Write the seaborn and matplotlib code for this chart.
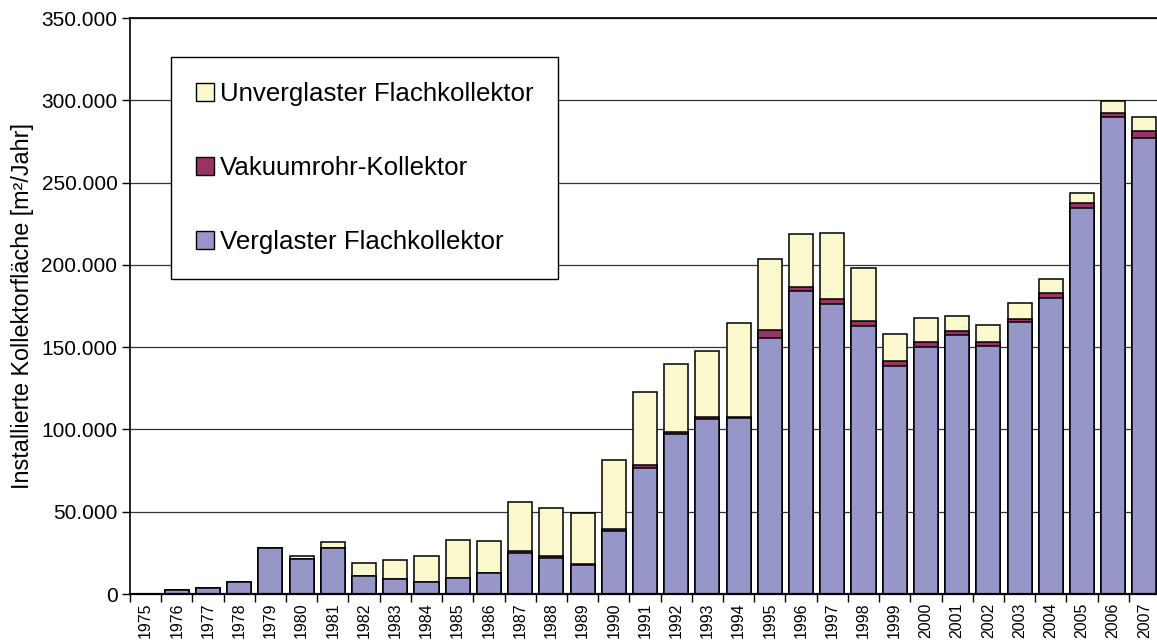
import matplotlib
import matplotlib.pyplot as plt
import numpy as np
import pandas as pd
import seaborn as sns
from matplotlib.patches import Patch
from matplotlib.ticker import FuncFormatter, MultipleLocator

matplotlib.use("Agg")

JAHRE = [str(j) for j in range(1975, 2008)]
VERGLAST = [200, 2300, 3800, 7100, 28000, 21500, 28000, 10800, 8900, 7500,
            9900, 12600, 25000, 22000, 17500, 38500, 76700, 97500, 106500, 106800,
            155700, 183900, 176300, 162900, 138700, 150200, 157600, 150900, 165000,
            179900, 234800, 289700, 277300]
VAKUUM = [0, 0, 0, 0, 0, 0, 0, 0, 0, 0,
          0, 0, 1000, 1200, 800, 1000, 1600, 1000, 1000, 1000,
          4600, 2700, 3000, 2700, 2700, 2800, 2500, 2300, 2100,
          2700, 2500, 2800, 4000]
UNVERGLAST = [0, 0, 0, 0, 0, 1500, 3600, 8200, 11800, 15400,
              23100, 19400, 30100, 28900, 30700, 41900, 44600, 41200, 40300, 57000,
              43200, 32200, 40200, 32400, 16800, 14700, 9100, 10500, 9600,
              8900, 6100, 7300, 8600]

FARBE_VERGLAST = "#9696C8"
FARBE_VAKUUM = "#993366"
FARBE_UNVERGLAST = "#FAF8CC"

plt.rcParams.update({"font.family": ["Liberation Sans", "DejaVu Sans"]})

df = pd.DataFrame({"jahr": JAHRE, "verglast": VERGLAST,
                   "vakuum": VAKUUM, "unverglast": UNVERGLAST})
df["bis_vakuum"] = df["verglast"] + df["vakuum"]
df["gesamt"] = df["bis_vakuum"] + df["unverglast"]

fig = plt.figure(figsize=(11.57, 6.41), dpi=100)
fig.patch.set_facecolor("white")
ax = fig.add_axes([130 / 1157, 47 / 641, 1030 / 1157, 576 / 641])

# gestapelt: Gesamt zuerst, dann die unteren Anteile darüber
kw = dict(ax=ax, width=0.77, edgecolor="black", linewidth=1.1, saturation=1)
sns.barplot(data=df, x="jahr", y="gesamt", color=FARBE_UNVERGLAST, **kw)
sns.barplot(data=df, x="jahr", y="bis_vakuum", color=FARBE_VAKUUM, **kw)
sns.barplot(data=df, x="jahr", y="verglast", color=FARBE_VERGLAST, **kw)

ax.set_xlim(-0.5, len(JAHRE) - 0.5)
ax.set_ylim(0, 350000)
ax.yaxis.set_major_locator(MultipleLocator(50000))
ax.yaxis.set_major_formatter(FuncFormatter(lambda v, p: f"{int(v):,}".replace(",", ".")))
ax.set_axisbelow(True)
ax.grid(axis="y", color="#333333", linewidth=0.9)
ax.grid(axis="x", visible=False)

ax.set_xticks(np.arange(len(JAHRE)))
ax.set_xticklabels(JAHRE, rotation=90, fontsize=11.5, va="top")
ax.set_xticks(np.arange(len(JAHRE) + 1) - 0.5, minor=True)
ax.tick_params(axis="x", which="major", length=0, pad=6)
ax.tick_params(axis="x", which="minor", length=6, width=1, direction="out")
ax.tick_params(axis="y", length=6, width=1, labelsize=15, pad=3)

ax.set_xlabel("")
ax.set_ylabel("Installierte Kollektorfläche [m²/Jahr]", fontsize=16.8, labelpad=5)

for seite in ["left", "bottom", "top"]:
    ax.spines[seite].set_color("black")
    ax.spines[seite].set_linewidth(1.2)
ax.spines["bottom"].set_linewidth(1.6)
ax.spines["right"].set_visible(False)

handles = [
    Patch(facecolor=FARBE_UNVERGLAST, edgecolor="black", linewidth=1, label="Unverglaster Flachkollektor"),
    Patch(facecolor=FARBE_VAKUUM, edgecolor="black", linewidth=1, label="Vakuumrohr-Kollektor"),
    Patch(facecolor=FARBE_VERGLAST, edgecolor="black", linewidth=1, label="Verglaster Flachkollektor"),
]
leg = ax.legend(handles=handles, loc="upper left", bbox_to_anchor=(0.040, 0.932),
                borderaxespad=0, fontsize=18.6, labelspacing=1.95, handlelength=0.7,
                handleheight=0.7, handletextpad=0.25, borderpad=0.95,
                fancybox=False, framealpha=1, edgecolor="black")
leg.get_frame().set_linewidth(1.0)

fig.savefig("out.png", dpi=100, facecolor="white")
plt.close(fig)
